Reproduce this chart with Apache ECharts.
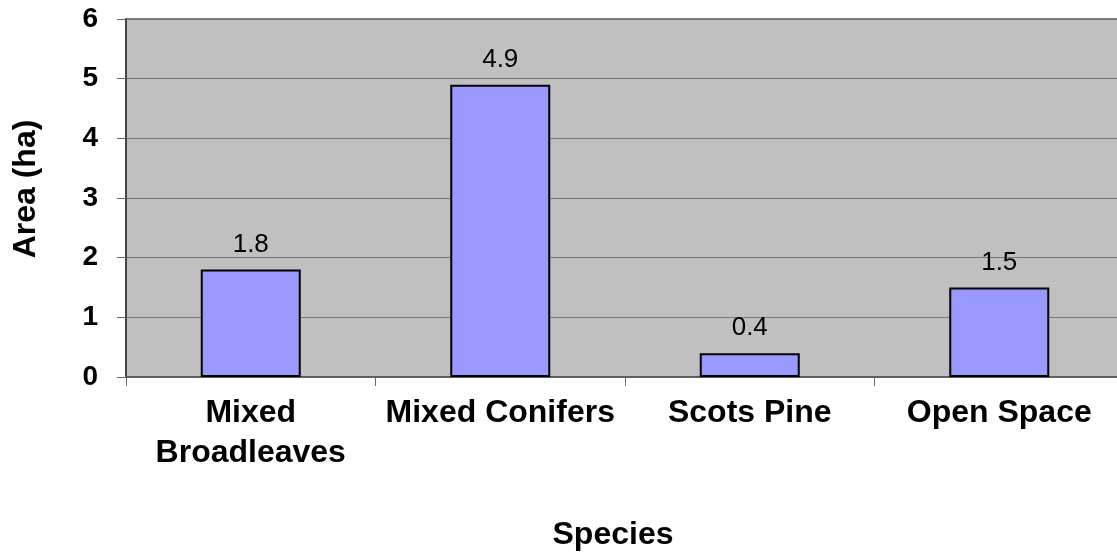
<!DOCTYPE html>
<html>
<head>
<meta charset="utf-8">
<script src="https://cdn.jsdelivr.net/npm/echarts@6/dist/echarts.min.js"></script>
<style>html,body{margin:0;padding:0;background:#fff;overflow:hidden;width:1117px;height:557px}#c{width:1124px;height:557px}</style>
</head>
<body>
<div id="c"></div>
<script>
const categories = ['Mixed\nBroadleaves', 'Mixed Conifers', 'Scots Pine', 'Open Space'];
const areaValues = [1.8, 4.9, 0.4, 1.5];
const yTicks = [0, 1, 2, 3, 4, 5, 6];

const FONT = '"Liberation Sans", Arial, sans-serif';
const chart = echarts.init(document.getElementById('c'), null, {renderer: 'canvas'});
chart.setOption({
  animation: false,
  backgroundColor: '#ffffff',
  grid: {
    left: 126, right: 0, top: 19, bottom: 180,
    show: true, backgroundColor: '#c0c0c0', borderColor: '#808080', borderWidth: 2
  },
  xAxis: {
    type: 'category',
    data: categories,
    name: 'Species',
    nameLocation: 'middle',
    nameGap: 142,
    nameTextStyle: {fontFamily: FONT, fontWeight: 'bold', fontSize: 32, color: '#000', padding: [0, 24, 0, 0]},
    axisLine: {show: true, lineStyle: {color: '#555', width: 1.5}},
    axisTick: {show: true, length: 9, alignWithLabel: false, lineStyle: {color: '#666', width: 1}},
    axisLabel: {fontFamily: FONT, fontWeight: 'bold', fontSize: 32, color: '#000', margin: 16, lineHeight: 40, interval: 0}
  },
  yAxis: {
    type: 'value',
    min: 0, max: 6, interval: 1,
    name: 'Area (ha)',
    nameLocation: 'middle',
    nameGap: 84,
    nameTextStyle: {fontFamily: FONT, fontWeight: 'bold', fontSize: 32, color: '#000', padding: [0, 0, 0, 18]},
    axisLine: {show: true, lineStyle: {color: '#333', width: 1.5}},
    axisTick: {show: true, length: 9, lineStyle: {color: '#666', width: 1}},
    axisLabel: {fontFamily: FONT, fontWeight: 'bold', fontSize: 28, color: '#000', margin: 28,
      formatter: function (v) { return yTicks.indexOf(v) >= 0 ? String(v) : ''; }},
    splitLine: {show: true, lineStyle: {color: '#787878', width: 1}}
  },
  series: [{
    type: 'bar',
    data: areaValues,
    barWidth: 100,
    itemStyle: {color: '#9999ff', borderColor: '#000', borderWidth: 2},
    label: {show: true, position: 'top', distance: 12, fontFamily: FONT, fontSize: 26, color: '#000',
      formatter: function (p) { return p.value.toFixed(1); }}
  }]
});
</script>
</body>
</html>
